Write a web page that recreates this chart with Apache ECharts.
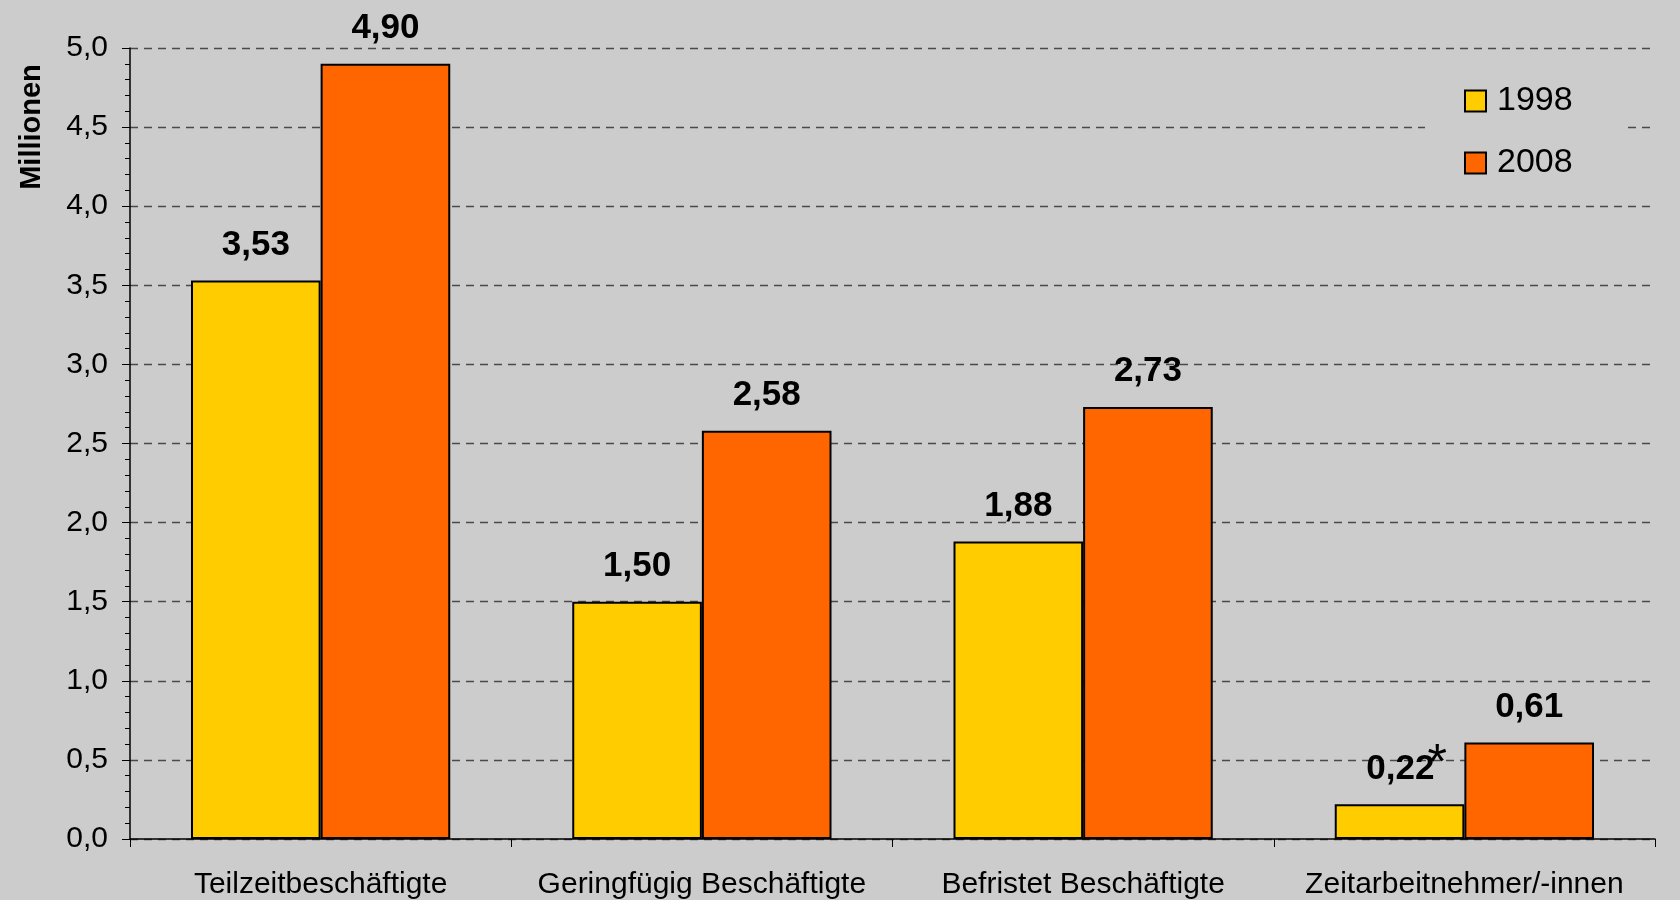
<!DOCTYPE html>
<html>
<head>
<meta charset="utf-8">
<title>Beschäftigte 1998 / 2008</title>
<script src="https://cdn.jsdelivr.net/npm/echarts@6/dist/echarts.min.js"></script>
<style>
	html, body { margin: 0; padding: 0; background: #CCCCCC; }
	#main { width: 1680px; height: 900px; }
</style>
</head>
<body>
<div id="main"></div>
<script>
// Daten
var categories = ['Teilzeitbeschäftigte', 'Geringfügig Beschäftigte', 'Befristet Beschäftigte', 'Zeitarbeitnehmer/-innen'];
var years = ['1998', '2008'];
var values1998 = [3.53, 1.50, 1.88, 0.22];
var values2008 = [4.90, 2.58, 2.73, 0.61];
// Fußnote (*) nur beim Wert 0,22
var starred1998 = [false, false, false, true];

var colors = ['#FFCC00', '#FF6600'];
var fontName = 'Liberation Sans, Arial, sans-serif';

var myChart = echarts.init(document.getElementById('main'));

function fmt(v, d) {
	return v.toFixed(d).replace('.', ',');
}

var labelStyle = {
	show: true,
	position: 'top',
	distance: 18,
	color: '#000',
	fontFamily: fontName,
	fontWeight: 'bold',
	fontSize: 35
};

var data1998 = values1998.map(function(v, i){
	if (!starred1998[i]) return v;
	return {
		value: v,
		label: {
			padding: [0, 0, 0, 14],
			offset: [0, 12],
			formatter: function(p){ return '{v|' + fmt(p.value, 2) + '}{s|*}'; },
			rich: {
				v: { fontFamily: fontName, fontWeight: 'bold', fontSize: 35, color: '#000' },
				s: { fontFamily: fontName, fontWeight: 'normal', fontSize: 50, color: '#000', padding: [0, 0, 8, -7] }
			}
		}
	};
});

var option = {
	backgroundColor: '#CCCCCC',
	color: colors,
	animation: false,
	grid: {
		left: 130,
		right: 25,
		top: 48,
		bottom: 60
	},
	legend: {
		orient: 'vertical',
		left: 1425,
		top: 70,
		padding: [14, 50, 14, 39],
		backgroundColor: '#CCCCCC',
		icon: 'rect',
		itemWidth: 21,
		itemHeight: 21,
		itemGap: 28,
		textStyle: {
			fontFamily: fontName,
			fontSize: 34,
			color: '#000',
			padding: [0, 0, 0, 6]
		},
		data: years
	},
	graphic: [{
		type: 'text',
		x: 32,
		y: 127,
		rotation: Math.PI / 2,
		style: {
			text: 'Millionen',
			fontFamily: fontName,
			fontWeight: 'bold',
			fontSize: 29,
			fill: '#000',
			align: 'center',
			verticalAlign: 'middle'
		}
	}],
	xAxis: {
		type: 'category',
		data: categories,
		axisLine: { lineStyle: { color: '#000', width: 1.5 } },
		axisTick: { show: true, interval: 0, length: 8, lineStyle: { color: '#000', width: 1 } },
		axisLabel: {
			interval: 0,
			margin: 31,
			color: '#000',
			fontFamily: fontName,
			fontSize: 30
		}
	},
	yAxis: {
		type: 'value',
		min: 0,
		max: 5,
		interval: 0.5,
		axisLine: { show: true, lineStyle: { color: '#000', width: 1.5 } },
		axisTick: { show: true, length: 8, lineStyle: { color: '#000', width: 1 } },
		minorTick: { show: true, splitNumber: 5, length: 5, lineStyle: { color: '#000', width: 1 } },
		axisLabel: {
			margin: 22,
			color: '#000',
			fontFamily: fontName,
			fontSize: 30,
			formatter: function(v){ return fmt(v, 1); }
		},
		splitLine: {
			show: true,
			lineStyle: { color: '#4a4a4a', width: 1.3, type: [8, 6] }
		}
	},
	series: [
		{
			name: years[0],
			type: 'bar',
			barGap: '0%',
			barCategoryGap: '32%',
			itemStyle: { color: colors[0], borderColor: '#000', borderWidth: 2 },
			label: Object.assign({}, labelStyle, { formatter: function(p){ return fmt(p.value, 2); } }),
			data: data1998
		},
		{
			name: years[1],
			type: 'bar',
			itemStyle: { color: colors[1], borderColor: '#000', borderWidth: 2 },
			label: Object.assign({}, labelStyle, { formatter: function(p){ return fmt(p.value, 2); } }),
			data: values2008
		}
	]
};

myChart.setOption(option, true);
window.onresize = myChart.resize;
</script>
</body>
</html>
